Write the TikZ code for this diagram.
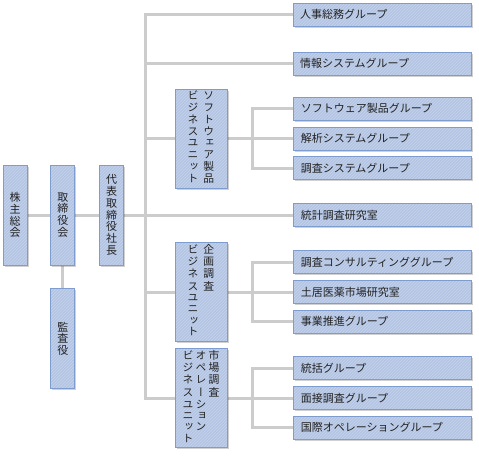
\documentclass[tikz,border=0pt]{standalone}
\usepackage{fontspec}
\newfontfamily\jpfont{Noto Sans CJK JP}
\newfontfamily\tatefont[RawFeature=+vert]{Noto Sans CJK JP}
\usetikzlibrary{positioning, patterns, shadows, backgrounds}
\definecolor{boxfill}{HTML}{B4C5E4}
\definecolor{boxline}{HTML}{7F9CCF}
\definecolor{boxstripe}{HTML}{C6D3EB}
\definecolor{wire}{HTML}{CCCCCC}
\definecolor{ink}{HTML}{222222}

\begin{document}
\begin{tikzpicture}[
    x=1pt, y=-1pt,
    orgbox/.style={rectangle, draw=boxline, line width=0.8pt,
        drop shadow={shadow xshift=1.5pt, shadow yshift=-1.5pt, opacity=0.18, fill=black},
        preaction={fill=boxfill}, pattern=north east lines, pattern color=boxstripe,
        text=ink, inner sep=0pt},
    tatebox/.style={orgbox, minimum width=24pt, minimum height=100pt,
        align=center, font=\tatefont\fontsize{11}{11.8}\selectfont},
    unitbox/.style={orgbox, minimum width=52pt, minimum height=99pt,
        font=\tatefont\fontsize{10.8}{11.3}\selectfont},
    grpbox/.style={orgbox, minimum width=178pt, minimum height=23pt,
        text width=164pt, inner xsep=7pt, align=left,
        font=\jpfont\fontsize{11}{12}\selectfont},
    wire/.style={draw=wire, line width=3pt}
]
% shareholders / board / president
\node (kabunushi) [tatebox] at (15,215) {株\\主\\総\\会};
\node (torishimari) [tatebox, right=23pt of kabunushi] {取\\締\\役\\会};
\node (daihyo) [tatebox, right=24pt of torishimari] {代\\表\\取\\締\\役\\社\\長};
\node (kansa) [tatebox, below=23pt of torishimari] {監\\査\\役};

\coordinate (trunk) at (145,0);
\coordinate (branch) at (252,0);

% staff groups
\node (jinji) [grpbox] at (382,14.5) {人事総務グループ};
\node (joho) [grpbox, below=25.5pt of jinji] {情報システムグループ};

% business units
\node (softbu) [unitbox] at (201,138.5) {\begin{tabular}{@{}c@{\hspace{5pt}}c@{}}
ビ&ソ\\ジ&フ\\ネ&ト\\ス&ウ\\ユ&ェ\\ニ&ア\\ッ&製\\ト&品\end{tabular}};
\node (kaiseki) [grpbox, right=66pt of softbu] {解析システムグループ};
\node (softg) [grpbox, above=6pt of kaiseki] {ソフトウェア製品グループ};
\node (chosasys) [grpbox, below=6pt of kaiseki] {調査システムグループ};

\node (tokei) [grpbox] at (daihyo -| kaiseki) {統計調査研究室};

\node (kikakubu) [unitbox] at (201,292) {\begin{tabular}{@{}c@{\hspace{5pt}}c@{}}
ビ&企\\ジ&画\\ネ&調\\ス&査\\ユ&\\ニ&\\ッ&\\ト&\end{tabular}};
\node (doi) [grpbox, right=66pt of kikakubu] {土居医薬市場研究室};
\node (consul) [grpbox, above=6pt of doi] {調査コンサルティンググループ};
\node (jigyo) [grpbox, below=6pt of doi] {事業推進グループ};

\node (shijobu) [unitbox] at (201,398) {\begin{tabular}{@{}c@{\hspace{2.2pt}}c@{\hspace{2.2pt}}c@{}}
ビ&オ&市\\ジ&ペ&場\\ネ&レ&調\\ス&ー&査\\ユ&シ&\\ニ&ョ&\\ッ&ン&\\ト&&\end{tabular}};
\node (mensetsu) [grpbox, right=66pt of shijobu] {面接調査グループ};
\node (tokatsu) [grpbox, above=6pt of mensetsu] {統括グループ};
\node (kokusai) [grpbox, below=6pt of mensetsu] {国際オペレーショングループ};

% connectors
\begin{scope}[on background layer]
\draw[wire] (kabunushi) -- (torishimari) -- (daihyo) -- (tokei);
\draw[wire] (torishimari) -- (kansa);
\draw[wire] (jinji.west) -| (trunk |- shijobu.west) -- (shijobu.west);
\draw[wire] (joho.west) -- (joho.west -| trunk);
\draw[wire] (softbu.west) -- (softbu.west -| trunk);
\draw[wire] (kikakubu.west) -- (kikakubu.west -| trunk);
\foreach \first/\mid/\last/\unit in {softg/kaiseki/chosasys/softbu,
    consul/doi/jigyo/kikakubu, tokatsu/mensetsu/kokusai/shijobu} {
  \draw[wire] (\first.west) -| (branch |- \last.west) -- (\last.west);
  \draw[wire] (\unit.east) -- (\mid.west);
}
\end{scope}

\useasboundingbox (0,0) rectangle (479,456);
\end{tikzpicture}
\end{document}
